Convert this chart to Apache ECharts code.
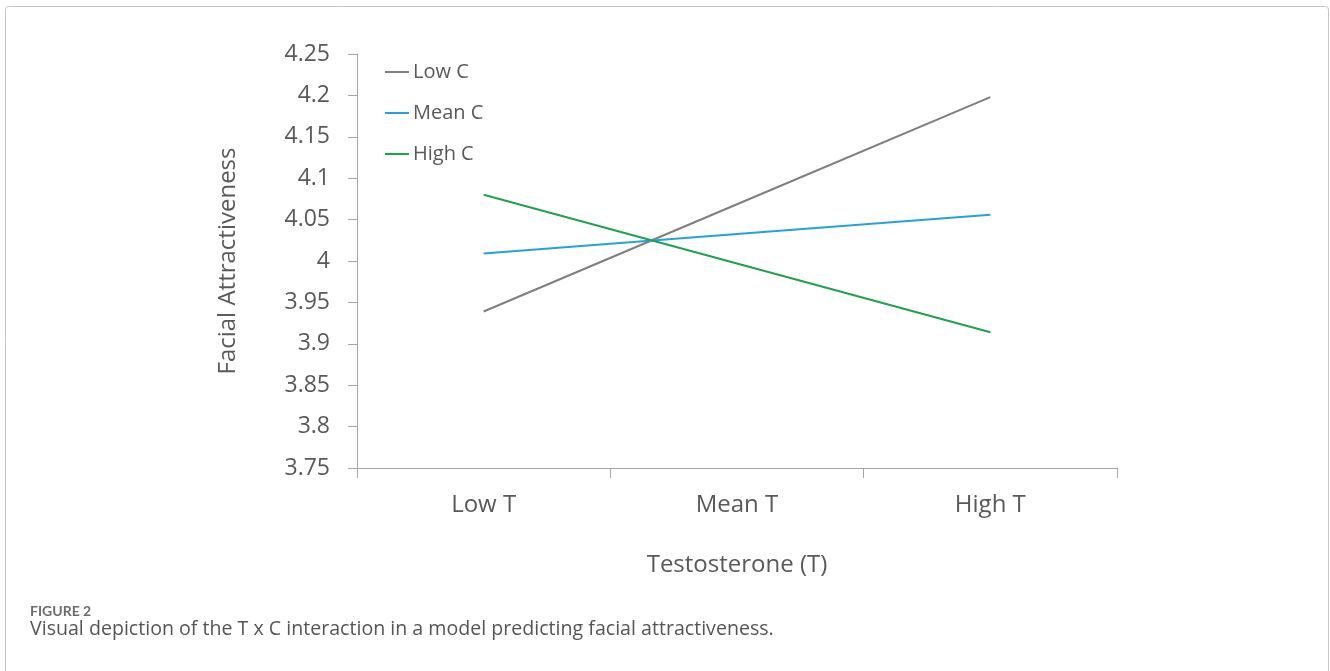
<!DOCTYPE html>
<html>
<head>
<meta charset="utf-8">
<script src="https://cdn.jsdelivr.net/npm/echarts@6/dist/echarts.min.js"></script>
<style>
html,body{margin:0;padding:0;background:#fff;}
#c{width:1330px;height:671px;}
</style>
</head>
<body>
<div id="c"></div>
<script>
const categories = ['Low T', 'Mean T', 'High T'];
const lowC = [3.939, 4.0685, 4.198];
const meanC = [4.009, 4.0325, 4.056];
const highC = [4.080, 3.997, 3.914];
const seriesNames = ['Low C', 'Mean C', 'High C'];
const yMin = 3.75, yMax = 4.25, yStep = 0.05;

const FONT = '"Open Sans", sans-serif';
const chart = echarts.init(document.getElementById('c'), null, {renderer: 'canvas'});
chart.setOption({
  backgroundColor: '#ffffff',
  animation: false,
  grid: {left: 357, right: 213, top: 54, bottom: 203, containLabel: false},
  legend: {
    orient: 'vertical', left: 380, top: 56,
    itemWidth: 24, itemHeight: 2, itemGap: 19, icon: 'rect',
    textStyle: {fontFamily: FONT, fontSize: 20, color: '#595959', lineHeight: 22, padding: [0, 0, 0, -1]},
    data: seriesNames
  },
  xAxis: {
    type: 'category', data: categories, boundaryGap: true,
    axisLine: {lineStyle: {color: '#a6a6a6', width: 1}},
    axisTick: {show: true, length: 10, lineStyle: {color: '#a6a6a6'}},
    axisLabel: {fontFamily: FONT, fontSize: 24, color: '#595959', margin: 25},
    name: 'Testosterone (T)', nameLocation: 'middle', nameGap: 85,
    nameTextStyle: {fontFamily: FONT, fontSize: 24, color: '#595959'},
    splitLine: {show: false}
  },
  yAxis: {
    type: 'value', min: yMin, max: yMax, interval: yStep,
    axisLine: {show: true, lineStyle: {color: '#a6a6a6', width: 1}},
    axisTick: {show: true, length: 9, inside: false, lineStyle: {color: '#a6a6a6'}},
    axisLabel: {fontFamily: FONT, fontSize: 23, color: '#595959', margin: 27,
      formatter: v => String(parseFloat(v.toFixed(2)))},
    splitLine: {show: false},
    name: 'Facial Attractiveness', nameLocation: 'middle', nameGap: 117,
    nameTextStyle: {fontFamily: FONT, fontSize: 24, color: '#595959'}
  },
  series: [
    {name: seriesNames[0], type: 'line', data: lowC, symbol: 'none', lineStyle: {color: '#7f7f7f', width: 2}, itemStyle: {color: '#7f7f7f'}},
    {name: seriesNames[1], type: 'line', data: meanC, symbol: 'none', lineStyle: {color: '#25a2dc', width: 2}, itemStyle: {color: '#25a2dc'}},
    {name: seriesNames[2], type: 'line', data: highC, symbol: 'none', lineStyle: {color: '#1fa150', width: 2}, itemStyle: {color: '#1fa150'}}
  ],
  graphic: [
    {type: 'rect', shape: {x: 5.5, y: 6.5, width: 1323, height: 720, r: 3}, style: {fill: 'none', stroke: '#c4c4c4', lineWidth: 1}, silent: true},
    {type: 'text', left: 30, top: 604, style: {text: 'FIGURE 2', fontFamily: 'Lato, sans-serif', fontSize: 14, fontWeight: 'bold', fill: '#6b6b6b'}},
    {type: 'text', left: 30, top: 619, style: {text: 'Visual depiction of the T x C interaction in a model predicting facial attractiveness.', fontFamily: FONT, fontSize: 19.6, fill: '#555555'}}
  ]
});
</script>
</body>
</html>
